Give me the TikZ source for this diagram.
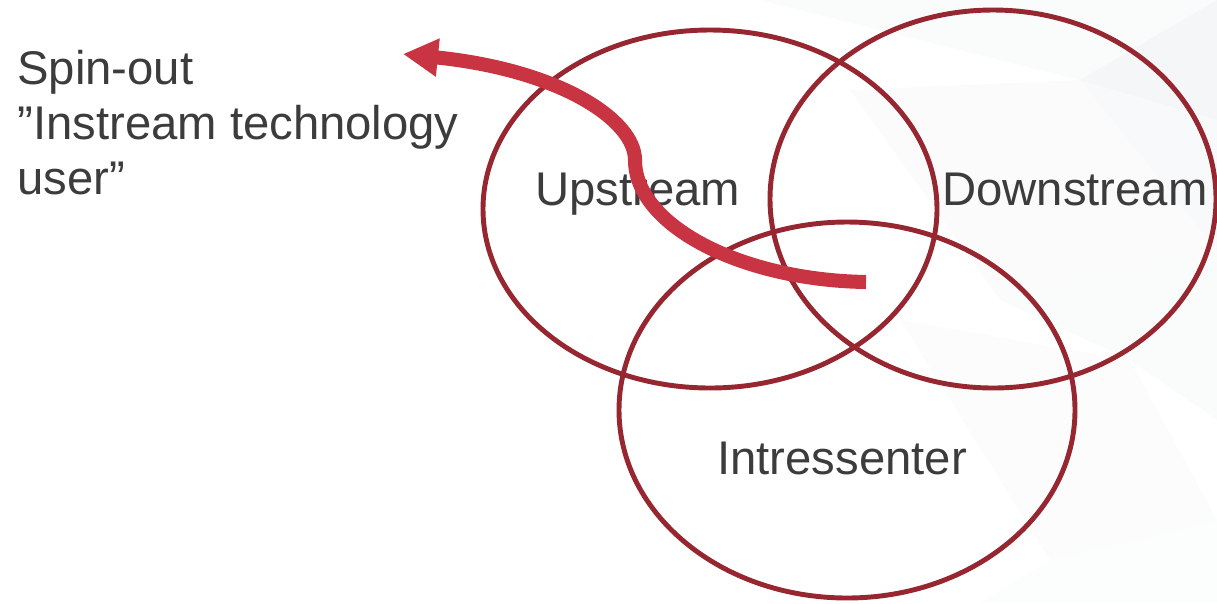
\documentclass[tikz,border=0pt]{standalone}
\usepackage{fontspec}
\setmainfont{Liberation Sans}
\usetikzlibrary{arrows.meta}
\definecolor{ringred}{RGB}{150,38,48}
\definecolor{arrowred}{RGB}{200,52,65}
\definecolor{textgrey}{RGB}{60,60,60}
\definecolor{facet}{RGB}{232,235,239}
\begin{document}
\begin{tikzpicture}[x=0.02cm,y=-0.02cm,
    ring/.style={color=ringred,line width=2.8pt},
    label/.style={text=textgrey,font=\fontsize{26.9}{31}\selectfont,inner sep=0pt,anchor=base west},
    flow/.style={color=arrowred,line width=8pt,-{Triangle[length=0.7cm,width=0.72cm]}}]
    \useasboundingbox (0,0) rectangle (1217,603);
    % faint background facets
    \fill[facet,opacity=0.22] (760,0) -- (1217,0) -- (1217,120) -- (1080,80) -- cycle;
    \fill[facet,opacity=0.30] (1080,80) -- (1217,0) -- (1217,250) -- cycle;
    \fill[facet,opacity=0.18] (850,90) -- (1080,80) -- (1217,250) -- (1000,300) -- cycle;
    \fill[facet,opacity=0.22] (1000,300) -- (1217,250) -- (1217,420) -- (1130,360) -- cycle;
    \fill[facet,opacity=0.15] (900,320) -- (1130,360) -- (1217,520) -- (1050,560) -- cycle;
    \fill[facet,opacity=0.12] (1050,560) -- (1217,520) -- (1217,603) -- (980,603) -- cycle;
    % the three rings
    \draw[ring] (710,209) ellipse [x radius=227,y radius=179];
    \draw[ring] (993,199) ellipse [x radius=223,y radius=189];
    \draw[ring] (847,410) ellipse [x radius=228,y radius=188];
    % labels
    \node[label] (up) at (535,205) {Upstream};
    \node[label] (down) at (942,205) {Downstream};
    \node[label] (intr) at (717,474) {Intressenter};
    \node[label] (spin) at (17,84) {Spin-out};
    \node[label] (instream) at (17,139) {”Instream technology};
    \node[label] (user) at (17,194) {user”};
    % spin-out arrow
    \coordinate (start) at (866,282);
    \coordinate (bend) at (635,160);
    \coordinate (tip) at (403,54);
    \draw[flow] (start) .. controls (740,280) and (635,225) .. (bend)
        .. controls (635,120) and (560,70) .. (tip);
\end{tikzpicture}
\end{document}
